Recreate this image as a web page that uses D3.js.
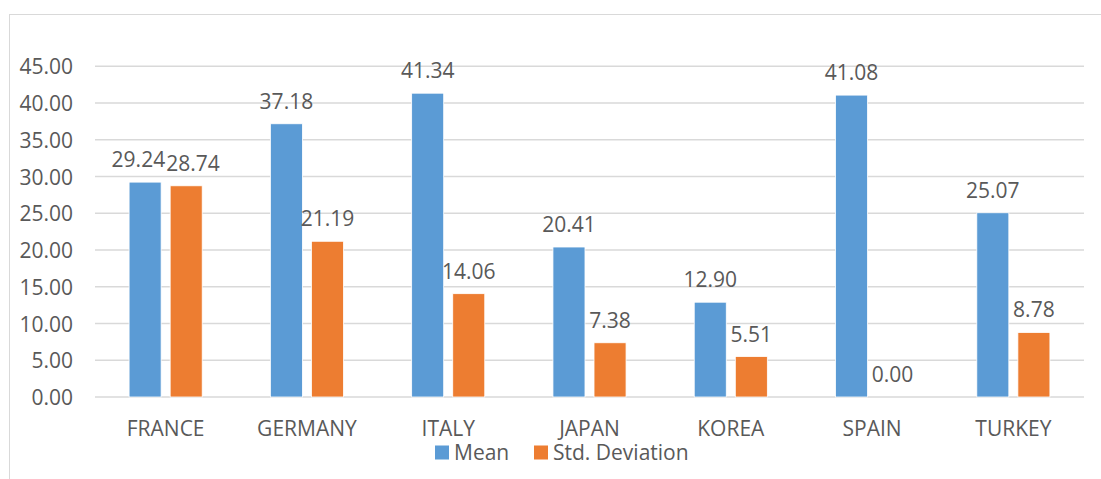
<!DOCTYPE html>
<html>
<head>
<meta charset="utf-8">
<script src="https://cdn.jsdelivr.net/npm/d3@7"></script>
<style>
  html, body { margin: 0; padding: 0; background: #fff; }
  svg { display: block; }
  text { font-family: "Open Sans", "Noto Sans", sans-serif; fill: #595959; }
</style>
</head>
<body>
<svg id="chart" width="1101" height="479"></svg>
<script>
const categories = ["FRANCE", "GERMANY", "ITALY", "JAPAN", "KOREA", "SPAIN", "TURKEY"];
const seriesNames = ["Mean", "Std. Deviation"];
const meanValues = [29.24, 37.18, 41.34, 20.41, 12.90, 41.08, 25.07];
const stdValues = [28.74, 21.19, 14.06, 7.38, 5.51, 0.00, 8.78];
const yTicks = [0, 5, 10, 15, 20, 25, 30, 35, 40, 45];
const colors = ["#5B9BD5", "#ED7D31"];

const svg = d3.select("#chart");
const W = 1101, H = 479;
const FS = 21;

// chart frame (only top/left visible)
svg.append("rect")
  .attr("x", 9.5).attr("y", 14.5)
  .attr("width", W + 20).attr("height", H + 20)
  .attr("fill", "none").attr("stroke", "#d9d9d9").attr("stroke-width", 1);

const x0 = d3.scaleBand().domain(categories).range([95, 1084]).paddingInner(0).paddingOuter(0);
const x1 = d3.scaleBand().domain(seriesNames).range([0, x0.bandwidth()]).paddingInner(0.22).paddingOuter(0.83);
const y = d3.scaleLinear().domain([0, 45]).range([397, 66.3]);

// gridlines
const grid = svg.append("g");
grid.selectAll("line").data(yTicks).join("line")
  .attr("x1", 95).attr("x2", 1084)
  .attr("y1", d => y(d)).attr("y2", d => y(d))
  .attr("stroke", "#d9d9d9").attr("stroke-width", 1.6);

// y axis labels via d3 axis
const yAxis = d3.axisLeft(y).tickValues(yTicks).tickFormat(d3.format(".2f")).tickSize(0).tickPadding(0);
const ya = svg.append("g").attr("transform", "translate(73,0)").call(yAxis);
ya.select(".domain").remove();
ya.selectAll("text")
  .attr("font-size", FS).attr("font-family", null).attr("fill", "#595959")
  .attr("dy", "0.36em");

// x axis labels via d3 axis
const xAxis = d3.axisBottom(x0).tickSize(0).tickPadding(0);
const xa = svg.append("g").attr("transform", "translate(0,436)").call(xAxis);
xa.select(".domain").remove();
xa.selectAll("text")
  .attr("font-size", FS).attr("font-family", null).attr("fill", "#595959")
  .attr("dy", 0).attr("y", 0);

// bars
const data = categories.map((c, i) => ({ cat: c, vals: [meanValues[i], stdValues[i]] }));
const groups = svg.append("g").selectAll("g").data(data).join("g")
  .attr("transform", d => `translate(${x0(d.cat)},0)`);

groups.selectAll("rect").data(d => d.vals.map((v, j) => ({ v, s: seriesNames[j], j }))).join("rect")
  .attr("x", d => x1(d.s))
  .attr("width", x1.bandwidth())
  .attr("y", d => y(d.v))
  .attr("height", d => y(0) - y(d.v))
  .attr("fill", d => colors[d.j])
  .attr("stroke", "#fff").attr("stroke-width", 0.8);

const labels = groups.selectAll("text.lbl").data(d => d.vals.map((v, j) => ({ v, s: seriesNames[j], j }))).join("text")
  .attr("class", "lbl")
  .attr("x", d => x1(d.s) + x1.bandwidth() / 2)
  .attr("y", d => y(d.v) - 15)
  .attr("text-anchor", "middle")
  .attr("font-size", FS)
  .text(d => d3.format(".2f")(d.v));

// resolve horizontal overlap between the two labels of a group (as the spreadsheet does)
groups.each(function () {
  const ts = d3.select(this).selectAll("text.lbl").nodes();
  if (ts.length < 2) return;
  const a = ts[0].getBBox(), b = ts[1].getBBox();
  const vOverlap = a.y < b.y + b.height && b.y < a.y + a.height;
  const hOverlap = a.x + a.width - b.x;
  if (vOverlap && hOverlap > 0) {
    const s = hOverlap / 2 + 0.5;
    d3.select(ts[0]).attr("x", +ts[0].getAttribute("x") - s);
    d3.select(ts[1]).attr("x", +ts[1].getAttribute("x") + s);
  }
});

// legend
const legend = svg.append("g");
const legendX = [435, 534];
seriesNames.forEach((s, j) => {
  legend.append("rect")
    .attr("x", legendX[j]).attr("y", 445.5)
    .attr("width", 14).attr("height", 14)
    .attr("fill", colors[j]);
  legend.append("text")
    .attr("x", legendX[j] + 19).attr("y", 460)
    .attr("font-size", FS)
    .text(s);
});
</script>
</body>
</html>
